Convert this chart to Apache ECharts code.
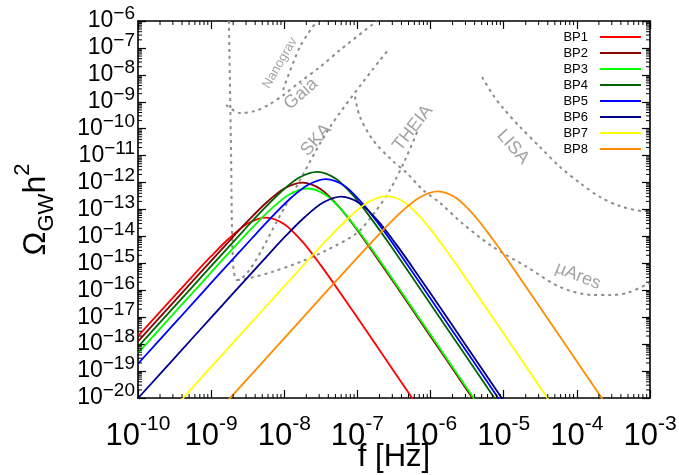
<!DOCTYPE html>
<html><head><meta charset="utf-8">
<script src="https://cdn.jsdelivr.net/npm/echarts@6/dist/echarts.min.js"></script>
<style>html,body{margin:0;padding:0;background:#fff}#c{width:679px;height:475px}</style>
</head><body><div id="c"></div>
<script>
// ---------- data ----------
const seriesNames = ['BP1','BP2','BP3','BP4','BP5','BP6','BP7','BP8'];
const xTickExp = [-10,-9,-8,-7,-6,-5,-4,-3];
const yTickExp = [-20,-19,-18,-17,-16,-15,-14,-13,-12,-11,-10,-9,-8,-7,-6];

const bp1 = [[1e-10,2.0e-18],[1.78e-10,1.12e-17],[5.62e-10,3.46e-16],[1e-9,1.84e-15],[1.78e-9,8.73e-15],[3.16e-9,3.0e-14],[5.62e-9,5.0e-14],[1e-8,2.84e-14],[1.78e-8,6.28e-15],[3.16e-8,8.41e-16],[5.62e-8,9.29e-17],[1.78e-7,9.68e-19],[5.62e-7,9.7e-21],[1e-6,9.8e-22]];
const bp2 = [[1e-10,1.26e-18],[1.78e-10,7.10e-18],[5.62e-10,2.24e-16],[1.78e-9,6.90e-15],[3.16e-9,3.67e-14],[5.62e-9,1.74e-13],[1e-8,5.98e-13],[1.78e-8,1.0e-12],[3.16e-8,5.66e-13],[5.62e-8,1.25e-13],[1e-7,1.68e-14],[1.78e-7,1.85e-15],[5.62e-7,1.93e-17],[1.78e-6,1.94e-19],[5.62e-6,1.94e-21]];
const bp3 = [[1e-10,4.69e-19],[2.09e-10,4.28e-18],[6.61e-10,1.35e-16],[2.09e-9,4.16e-15],[3.72e-9,2.21e-14],[6.61e-9,1.05e-13],[1.17e-8,3.61e-13],[2.09e-8,6.03e-13],[3.72e-8,3.41e-13],[6.61e-8,7.55e-14],[1.17e-7,1.01e-14],[2.09e-7,1.12e-15],[6.61e-7,1.16e-17],[2.09e-6,1.17e-19],[6.61e-6,1.17e-21]];
const bp4 = [[1e-10,7.96e-19],[2.82e-10,1.78e-17],[8.91e-10,5.62e-16],[2.82e-9,1.73e-14],[5.01e-9,9.23e-14],[8.91e-9,4.38e-13],[1.58e-8,1.50e-12],[2.82e-8,2.51e-12],[5.01e-8,1.42e-12],[8.91e-8,3.15e-13],[1.58e-7,4.22e-14],[2.82e-7,4.66e-15],[8.91e-7,4.85e-17],[2.82e-6,4.88e-19],[8.91e-6,4.88e-21]];
const bp5 = [[1e-10,1.87e-19],[3.72e-10,9.57e-18],[1.17e-9,3.02e-16],[3.72e-9,9.31e-15],[6.61e-9,4.95e-14],[1.17e-8,2.35e-13],[2.09e-8,8.07e-13],[3.72e-8,1.35e-12],[6.61e-8,7.64e-13],[1.17e-7,1.69e-13],[2.09e-7,2.26e-14],[3.72e-7,2.50e-15],[1.17e-6,2.61e-17],[3.72e-6,2.62e-19],[1.17e-5,2.62e-21]];
const bp6 = [[1e-10,9.8e-21],[6.03e-10,2.14e-18],[1.91e-9,6.76e-17],[6.03e-9,2.08e-15],[1.07e-8,1.11e-14],[1.91e-8,5.26e-14],[3.39e-8,1.81e-13],[6.03e-8,3.02e-13],[1.07e-7,1.71e-13],[1.91e-7,3.78e-14],[3.39e-7,5.07e-15],[6.03e-7,5.60e-16],[1.91e-6,5.83e-18],[6.03e-6,5.86e-20],[1.91e-5,5.86e-22]];
const bp7 = [[2.51e-10,2.24e-21],[2.51e-9,2.24e-18],[7.94e-9,7.08e-17],[2.51e-8,2.18e-15],[4.47e-8,1.16e-14],[7.94e-8,5.51e-14],[1.41e-7,1.89e-13],[2.51e-7,3.16e-13],[4.47e-7,1.79e-13],[7.94e-7,3.96e-14],[1.41e-6,5.31e-15],[2.51e-6,5.86e-16],[7.94e-6,6.11e-18],[2.51e-5,6.14e-20],[7.94e-5,6.14e-22]];
const bp8 = [[1.26e-9,3.32e-21],[1.26e-8,3.32e-18],[3.98e-8,1.05e-16],[1.26e-7,3.23e-15],[2.24e-7,1.72e-14],[3.98e-7,8.15e-14],[7.08e-7,2.80e-13],[1.26e-6,4.68e-13],[2.24e-6,2.65e-13],[3.98e-6,5.86e-14],[7.08e-6,7.85e-15],[1.26e-5,8.67e-16],[3.98e-5,9.04e-18],[1.26e-4,9.08e-20],[3.98e-4,9.08e-22]];

// sensitivity curves (gray dashed)
const nanograv = [[9.62e-9,2.74e-9],[1.64e-8,1.11e-7],[2.80e-8,1e-6]];
const gaia = [[1.60e-9,7.60e-10],[2.48e-9,3.84e-10],[3.98e-9,4.55e-10],[6.38e-9,8.28e-10],[9.31e-9,1.64e-9],[1.64e-8,5.43e-9],[3.08e-8,1.96e-8],[5.78e-8,8.38e-8],[1.85e-7,1e-6]];
const ska = [[1.75e-9,1e-6],[1.87e-9,1.62e-11],[1.99e-9,1.12e-15],[2.26e-9,2.41e-16],[1.02e-8,1.24e-13],[4.22e-8,1.16e-10],[2.62e-7,8.38e-8]];
const theia = [[2.26e-9,2.41e-16],[3.40e-9,2.86e-16],[6.79e-9,4.79e-16],[1.64e-8,1.12e-15],[3.84e-8,3.14e-15],[9.86e-8,1.34e-14],[1.74e-7,8.09e-14],[2.79e-7,5.30e-13],[4.48e-7,6.89e-12],[6.73e-7,8.96e-11]];
const lisa = [[5.05e-6,8.33e-9],[7.15e-6,1.79e-9],[9.77e-6,5.88e-10],[1.67e-5,1.16e-10],[3.13e-5,2.09e-11],[5.89e-5,3.79e-12],[1.10e-4,9.64e-13],[2.07e-4,2.92e-13],[3.89e-4,1.35e-13],[8.04e-4,8.81e-14],[1e-3,8.81e-14]];
const muares = [[9.27e-8,1.55e-9],[1.08e-7,2.79e-10],[1.63e-7,3.81e-11],[2.94e-7,6.89e-12],[4.72e-7,2.27e-12],[7.89e-7,5.30e-13],[1.35e-6,1.75e-13],[2.78e-6,2.90e-14],[7.15e-6,4.06e-15],[2.08e-5,7.33e-16],[5.89e-5,1.32e-16],[1.66e-4,6.70e-17],[2.84e-4,6.70e-17],[4.85e-4,7.94e-17],[1e-3,1.87e-16]];
const curveLabelTexts = ['Nanograv','Gaia','SKA','THEIA','LISA','µAres'];

// ---------- styles / layout ----------
const colors = ['#ff0000','#8b0000','#00ff00','#006400','#0000ff','#00008b','#ffff00','#ff8c00'];
const curveLabelStyle = [
  {at:[8.73e-9,2.75e-8], rot:60, size:13},
  {at:[1.69e-8,1.95e-9], rot:41, size:18},
  {at:[2.72e-8,3.81e-11], rot:48, size:18},
  {at:[5.75e-7,1.06e-10], rot:52, size:18},
  {at:[1.34e-5,2.09e-11], rot:-48, size:18},
  {at:[1.04e-4,3.40e-16], rot:-22, size:18}
];
const GRAY = '#8c8c8c';
const FONT = 'Liberation Sans, Arial, Helvetica, sans-serif';
const XMIN = Math.pow(10, xTickExp[0]), XMAX = Math.pow(10, xTickExp[xTickExp.length-1]);
const YMIN = Math.pow(10, yTickExp[0]), YMAX = Math.pow(10, yTickExp[yTickExp.length-1]);

function expOf(v){ return Math.round(Math.log10(v)); }
function xLabel(v){ const e = expOf(v); return xTickExp.indexOf(e) >= 0 ? '{b|10}{e|' + e + '}' : ''; }
function yLabel(v){ const e = expOf(v); return yTickExp.indexOf(e) >= 0 ? '{b|10}{e|' + String(e).replace('-', '\u2212') + '}' : ''; }
const yRich = {
  b: {fontSize: 23, lineHeight: 18, fontFamily: FONT, fill: '#000'},
  e: {fontSize: 19, lineHeight: 8, fontFamily: FONT, fill: '#000', verticalAlign: 'middle', padding: [0, 0, 14, 0]}
};

const axisCommon = {
  type: 'log', logBase: 10, interval: 1,
  axisLine: {show: true, onZero: false, lineStyle: {color: '#000', width: 1.6}},
  axisTick: {show: true, inside: true, length: 8, lineStyle: {color: '#000', width: 1.2}},
  splitLine: {show: false}, minorTick: {show: false}, minorSplitLine: {show: false}
};
const xAxisBase = Object.assign({}, axisCommon, {min: XMIN, max: XMAX, splitNumber: xTickExp.length - 1});
const yAxisBase = Object.assign({}, axisCommon, {min: YMIN, max: YMAX, splitNumber: yTickExp.length - 1});

// minor tick positions (2..9 x decade)
const xMinor = [], yMinor = [];
for (let i = 0; i < xTickExp.length - 1; i++) for (let m = 2; m <= 9; m++) xMinor.push([m * Math.pow(10, xTickExp[i]), YMIN]);
for (let i = 0; i < yTickExp.length - 1; i++) for (let m = 2; m <= 9; m++) yMinor.push([XMIN, m * Math.pow(10, yTickExp[i])]);

const chart = echarts.init(document.getElementById('c'), null, {renderer: 'canvas'});

const bpData = [bp1,bp2,bp3,bp4,bp5,bp6,bp7,bp8];
const bpSeries = bpData.map((d, i) => ({
  name: seriesNames[i], type: 'line', data: d, symbol: 'none', smooth: 0.3,
  lineStyle: {color: colors[i], width: 1.8}, itemStyle: {color: colors[i]}, z: 5 + i * 0.01, clip: true
}));
const sensSeries = [nanograv, gaia, ska, theia, lisa, muares].map(d => ({
  type: 'line', data: d, symbol: 'none', smooth: 0.3, silent: true,
  lineStyle: {color: GRAY, width: 2, type: [3, 4]}, z: 3, clip: true
}));
const labelSeries = {
  type: 'scatter', symbolSize: 0, silent: true, z: 4,
  data: curveLabelTexts.map((t, i) => ({
    value: curveLabelStyle[i].at,
    label: {show: true, position: 'inside', formatter: t, rotate: curveLabelStyle[i].rot,
      fontSize: curveLabelStyle[i].size, color: GRAY, fontFamily: FONT}
  }))
};
const tickStyle = {stroke: '#000', lineWidth: 1};
const xMinorSeries = {
  type: 'custom', data: xMinor, silent: true, z: 10, clip: false,
  renderItem: (p, api) => {
    const a = api.coord([api.value(0), YMIN]);
    const b = api.coord([api.value(0), YMAX]);
    return {type: 'group', children: [
      {type: 'line', shape: {x1: a[0], y1: a[1], x2: a[0], y2: a[1] - 4}, style: tickStyle},
      {type: 'line', shape: {x1: b[0], y1: b[1], x2: b[0], y2: b[1] + 4}, style: tickStyle}
    ]};
  }
};
const yMinorSeries = {
  type: 'custom', data: yMinor, silent: true, z: 10, clip: false,
  renderItem: (p, api) => {
    const a = api.coord([XMIN, api.value(1)]);
    const b = api.coord([XMAX, api.value(1)]);
    return {type: 'group', children: [
      {type: 'line', shape: {x1: a[0], y1: a[1], x2: a[0] + 4, y2: a[1]}, style: tickStyle},
      {type: 'line', shape: {x1: b[0], y1: b[1], x2: b[0] - 4, y2: b[1]}, style: tickStyle}
    ]};
  }
};
// y tick labels drawn at the axis' own tick positions
const yLabelSeries = {
  type: 'custom', data: yTickExp.map(e => [XMIN, Math.pow(10, e)]), silent: true, z: 10, clip: false,
  renderItem: (p, api) => {
    const c = api.coord([XMIN, api.value(1)]);
    return {type: 'text', x: c[0] - 3, y: c[1],
      style: {text: yLabel(api.value(1)), rich: yRich, align: 'right', verticalAlign: 'middle',
        fill: '#000', fontFamily: FONT, fontSize: 23}};
  }
};

chart.setOption({
  animation: false,
  backgroundColor: '#fff',
  textStyle: {fontFamily: FONT},
  grid: {left: 138, right: 29, top: 21, bottom: 77, containLabel: false, outerBoundsMode: 'none'},
  legend: {
    show: true, data: seriesNames.map(n => ({name: n, icon: 'rect'})), orient: 'vertical', right: 38, top: 29, align: 'right',
    itemWidth: 41, itemHeight: 2, itemGap: 0, padding: 0, selectedMode: false,
    textStyle: {fontSize: 13, color: '#000', lineHeight: 16, fontFamily: FONT, padding: [0, 7, 0, 0]}
  },
  xAxis: [
    Object.assign({}, xAxisBase, {position: 'bottom',
      axisLabel: {show: true, margin: 16, formatter: xLabel, color: '#000', showMinLabel: true, showMaxLabel: true, hideOverlap: false,
        rich: {b: {fontSize: 31, lineHeight: 45, fontFamily: FONT},
               e: {fontSize: 21, fontFamily: FONT, verticalAlign: 'top'}}},
      name: 'f [Hz]', nameLocation: 'middle', nameGap: 44, nameMoveOverlap: false,
      nameTextStyle: {fontSize: 31, color: '#000', fontFamily: FONT, verticalAlign: 'top'}}),
    Object.assign({}, xAxisBase, {position: 'top', axisLabel: {show: false}})
  ],
  yAxis: [
    Object.assign({}, yAxisBase, {position: 'left',
      axisLabel: {show: false},
      name: '{o|Ω}{s|GW}{h|h}{p|2}', nameLocation: 'middle', nameGap: 74, nameRotate: 90, nameMoveOverlap: false,
      nameTextStyle: {color: '#000', fontFamily: FONT,
        rich: {o: {fontSize: 32, lineHeight: 56, fontFamily: FONT},
               s: {fontSize: 22, fontFamily: FONT, verticalAlign: 'bottom', padding: [0, 0, 6, 0]},
               h: {fontSize: 32, lineHeight: 56, fontFamily: FONT},
               p: {fontSize: 22, fontFamily: FONT, verticalAlign: 'top', padding: [4, 0, 0, 0]}}}}),
    Object.assign({}, yAxisBase, {position: 'right', axisLabel: {show: false}})
  ],
  series: [].concat(sensSeries, [labelSeries], bpSeries, [xMinorSeries, yMinorSeries, yLabelSeries])
});
</script></body></html>
